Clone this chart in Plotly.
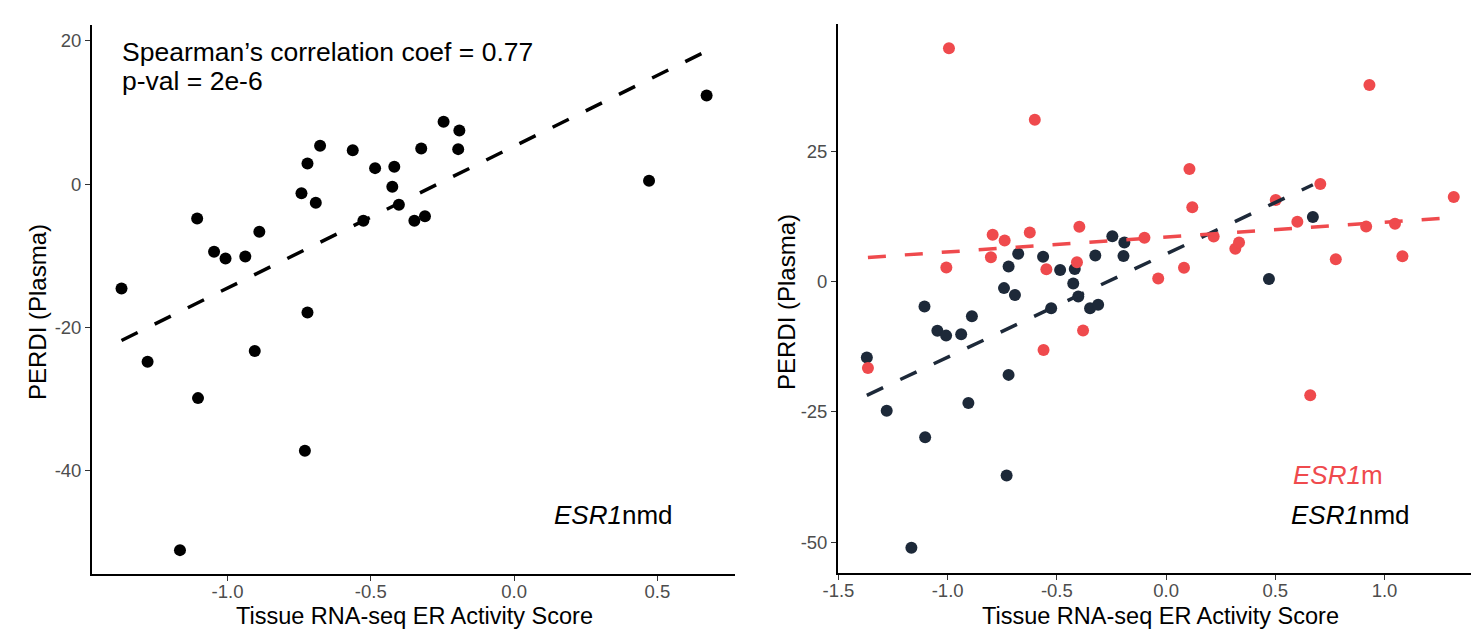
import numpy as np
import plotly.graph_objects as go

# ---------------- data ----------------
# ESR1nmd samples (same in both panels)
nmd_x = [-1.370, -1.106, -1.047, -1.007, -0.938, -0.889, -0.742, -0.721, -0.692, -0.677,
         -0.563, -0.526, -0.485, -0.418, -0.425, -0.402, -0.348, -0.311, -0.324, -0.246,
         -0.191, -0.195, 0.471, 0.672, -0.721, -1.279, -1.103, -0.905, -0.730, -1.166]
nmd_y = [-14.56, -4.79, -9.44, -10.37, -10.09, -6.65, -1.26, 2.88, -2.60, 5.35,
         4.74, -5.12, 2.23, 2.42, -0.37, -2.88, -5.12, -4.47, 4.98, 8.70,
         7.49, 4.88, 0.47, 12.37, -17.90, -24.79, -29.86, -23.30, -37.21, -51.07]

# ESR1m samples (right panel)
m_x = [-0.994, -0.601, 0.931, 0.107, 0.120, 0.706, 0.502, 1.317, 0.601, 0.916,
       1.048, 1.082, 0.777, -0.794, -0.739, -0.624, -0.397, -0.802, -1.006, -0.548,
       -0.408, -0.099, 0.218, 0.317, 0.334, 0.082, -0.036, -1.365, -0.561, -0.380, 0.660]
m_y = [44.74, 31.03, 37.69, 21.60, 14.23, 18.72, 15.64, 16.22, 11.47, 10.58,
       11.09, 4.87, 4.29, 8.97, 7.88, 9.42, 10.51, 4.68, 2.69, 2.37,
       3.72, 8.40, 8.65, 6.28, 7.50, 2.63, 0.58, -16.58, -13.14, -9.38, -21.81]

left_xticks = [-1.0, -0.5, 0.0, 0.5]
left_xlabels = ["-1.0", "-0.5", "0.0", "0.5"]
left_yticks = [-40, -20, 0, 20]
left_ylabels = ["-40", "-20", "0", "20"]
right_xticks = [-1.5, -1.0, -0.5, 0.0, 0.5, 1.0]
right_xlabels = ["-1.5", "-1.0", "-0.5", "0.0", "0.5", "1.0"]
right_yticks = [-50, -25, 0, 25]
right_ylabels = ["-50", "-25", "0", "25"]

x_title = "Tissue RNA-seq ER Activity Score"
y_title = "PERDI (Plasma)"
stat_line1 = "Spearman\u2019s correlation coef = 0.77"
stat_line2 = "p-val = 2e-6"

# ---------------- styles ----------------
W, H = 1471, 629
FONT = "Liberation Sans, Arial, sans-serif"
DARK = "#1D2939"
RED = "#EF4A4D"


def fit_line(x, y):
    x = np.asarray(x, float)
    y = np.asarray(y, float)
    b, a = np.polyfit(x, y, 1)
    xs = np.array([x.min(), x.max()])
    return xs, a + b * xs


def px(x):
    return x / W


def py(y):
    return 1 - y / H


fig = go.Figure()

# left panel
fig.add_trace(go.Scatter(x=nmd_x, y=nmd_y, mode="markers",
                         marker=dict(color="black", size=12),
                         xaxis="x", yaxis="y", showlegend=False, hoverinfo="skip"))
lx, ly = fit_line(nmd_x, nmd_y)
fig.add_trace(go.Scatter(x=lx, y=ly, mode="lines",
                         line=dict(color="black", width=3.5, dash="18px,19px"),
                         xaxis="x", yaxis="y", showlegend=False, hoverinfo="skip"))

# right panel
fig.add_trace(go.Scatter(x=nmd_x, y=nmd_y, mode="markers",
                         marker=dict(color=DARK, size=12),
                         xaxis="x2", yaxis="y2", showlegend=False, hoverinfo="skip"))
fig.add_trace(go.Scatter(x=m_x, y=m_y, mode="markers",
                         marker=dict(color=RED, size=12),
                         xaxis="x2", yaxis="y2", showlegend=False, hoverinfo="skip"))
fig.add_trace(go.Scatter(x=lx, y=ly, mode="lines",
                         line=dict(color=DARK, width=3.5, dash="18px,19px"),
                         xaxis="x2", yaxis="y2", showlegend=False, hoverinfo="skip"))
rx, ry = fit_line(m_x, m_y)
fig.add_trace(go.Scatter(x=rx, y=ry, mode="lines",
                         line=dict(color=RED, width=3.5, dash="18px,19px"),
                         xaxis="x2", yaxis="y2", showlegend=False, hoverinfo="skip"))

axis_common = dict(showline=True, linecolor="black", linewidth=1.8, mirror=False,
                   showgrid=False, zeroline=False, ticks="outside", ticklen=5,
                   tickwidth=1.4, tickcolor="#333333", automargin=False,
                   tickfont=dict(family=FONT, size=18.5, color="#4D4D4D"))

fig.update_layout(
    template="none",
    width=W, height=H,
    margin=dict(l=0, r=0, t=0, b=0, pad=0, autoexpand=False),
    paper_bgcolor="white", plot_bgcolor="white",
    xaxis=dict(domain=[px(92), px(735)], range=[-1.473, 0.771], ticklabelstandoff=-5,
               tickvals=left_xticks, ticktext=left_xlabels, anchor="y", **axis_common),
    yaxis=dict(domain=[py(574), py(25)], range=[-54.4, 22.2],
               tickvals=left_yticks, ticktext=left_ylabels, anchor="x", **axis_common),
    xaxis2=dict(domain=[px(838), 1.0], range=[-1.502, 1.396], ticklabelstandoff=-5,
                tickvals=right_xticks, ticktext=right_xlabels, anchor="y2", **axis_common),
    yaxis2=dict(domain=[py(573), py(24)], range=[-55.9, 49.4],
                tickvals=right_yticks, ticktext=right_ylabels, anchor="x2", **axis_common),
)

ann = []
title_font = dict(family=FONT, size=23.5, color="black")
ytitle_font = dict(family=FONT, size=24, color="black")
# axis titles
ann.append(dict(text=x_title, x=px(414.5), y=py(615.5), xref="paper", yref="paper",
                xanchor="center", yanchor="middle", showarrow=False, font=title_font))
ann.append(dict(text=x_title, x=px(1160), y=py(615.5), xref="paper", yref="paper",
                xanchor="center", yanchor="middle", showarrow=False, font=title_font))
ann.append(dict(text=y_title, x=px(38), y=py(312), xref="paper", yref="paper",
                xanchor="center", yanchor="middle", textangle=-90, showarrow=False,
                font=ytitle_font))
ann.append(dict(text=y_title, x=px(786), y=py(302), xref="paper", yref="paper",
                xanchor="center", yanchor="middle", textangle=-90, showarrow=False,
                font=ytitle_font))
# statistics text
stat_font = dict(family=FONT, size=26.5, color="black")
ann.append(dict(text=stat_line1, x=px(120), y=py(51.7), xref="paper", yref="paper",
                xanchor="left", yanchor="middle", showarrow=False, font=stat_font))
ann.append(dict(text=stat_line2, x=px(120), y=py(81), xref="paper", yref="paper",
                xanchor="left", yanchor="middle", showarrow=False, font=stat_font))
# group labels
lab_font = dict(family=FONT, size=26, color="black")
ann.append(dict(text="<i>ESR1</i>nmd", x=px(552), y=py(514.5), xref="paper", yref="paper",
                xanchor="left", yanchor="middle", showarrow=False, font=lab_font))
ann.append(dict(text="<i>ESR1</i>m", x=px(1291), y=py(475), xref="paper", yref="paper",
                xanchor="left", yanchor="middle", showarrow=False,
                font=dict(family=FONT, size=26, color=RED)))
ann.append(dict(text="<i>ESR1</i>nmd", x=px(1289), y=py(514.7), xref="paper", yref="paper",
                xanchor="left", yanchor="middle", showarrow=False, font=lab_font))

fig.update_layout(annotations=ann)

fig.write_html(
    "out.html",
    config={"displayModeBar": False},
    post_script="document.body.style.margin='0';document.body.style.padding='0';"
                "document.body.style.overflow='hidden';",
)
